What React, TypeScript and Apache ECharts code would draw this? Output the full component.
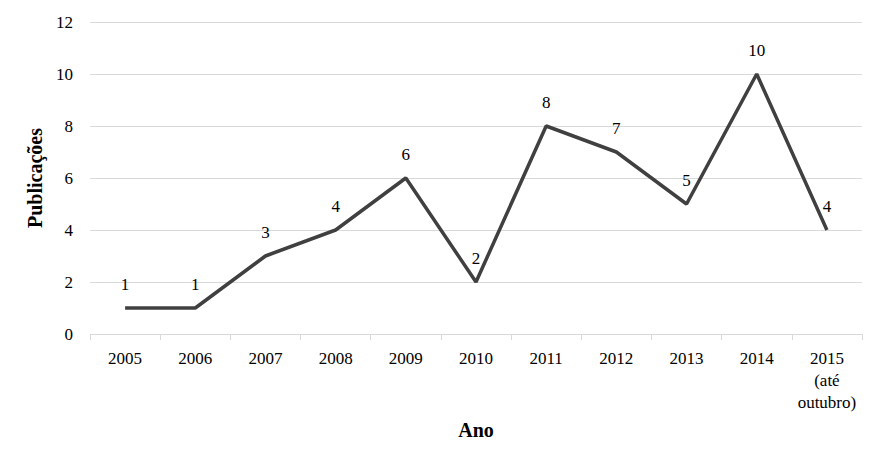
import React, { useEffect, useRef } from "react";
import * as echarts from "echarts";

const categories = ["2005", "2006", "2007", "2008", "2009", "2010", "2011", "2012", "2013", "2014", "2015\n(até\noutubro)"];
const publicacoes = [1, 1, 3, 4, 6, 2, 8, 7, 5, 10, 4];
const yMin = 0;
const yMax = 12;
const yInterval = 2;

const FONT = "Liberation Serif";

export default function App() {
  const ref = useRef<HTMLDivElement>(null);
  useEffect(() => {
    if (!ref.current) return;
    const chart = echarts.init(ref.current, undefined, { renderer: "svg" });
    chart.setOption({
      animation: false,
      backgroundColor: "#ffffff",
      textStyle: { fontFamily: FONT },
      grid: { left: 90, right: 24, top: 22, bottom: 131, containLabel: false },
      xAxis: {
        type: "category",
        data: categories,
        boundaryGap: true,
        name: "Ano",
        nameLocation: "middle",
        nameGap: 86,
        nameTextStyle: { fontFamily: FONT, fontSize: 20, fontWeight: "bold", color: "#000" },
        axisLine: { lineStyle: { color: "#d9d9d9", width: 1 } },
        axisTick: { show: true, length: 6, lineStyle: { color: "#d9d9d9" } },
        axisLabel: { fontFamily: FONT, fontSize: 17, color: "#000", margin: 13, lineHeight: 22, interval: 0 },
        splitLine: { show: false },
      },
      yAxis: {
        type: "value",
        min: yMin,
        max: yMax,
        interval: yInterval,
        name: "Publicações",
        nameLocation: "middle",
        nameGap: 39,
        nameRotate: 90,
        nameTextStyle: { fontFamily: FONT, fontSize: 20, fontWeight: "bold", color: "#000" },
        axisLine: { show: false },
        axisTick: { show: false },
        axisLabel: { fontFamily: FONT, fontSize: 17, color: "#000", margin: 17 },
        splitLine: { lineStyle: { color: "#d9d9d9", width: 1 } },
      },
      series: [
        {
          type: "line",
          data: publicacoes,
          symbol: "circle",
          symbolSize: 1,
          showSymbol: true,
          itemStyle: { color: "rgba(0,0,0,0)" },
          lineStyle: { color: "#404040", width: 3.5 },
          label: {
            show: true,
            position: "top",
            distance: 15,
            fontFamily: FONT,
            fontSize: 17,
            color: "#000",
          },
        },
      ],
    });
    return () => chart.dispose();
  }, []);
  return <div ref={ref} style={{ width: 886, height: 465, position: "absolute", left: 0, top: 0 }} />;
}
